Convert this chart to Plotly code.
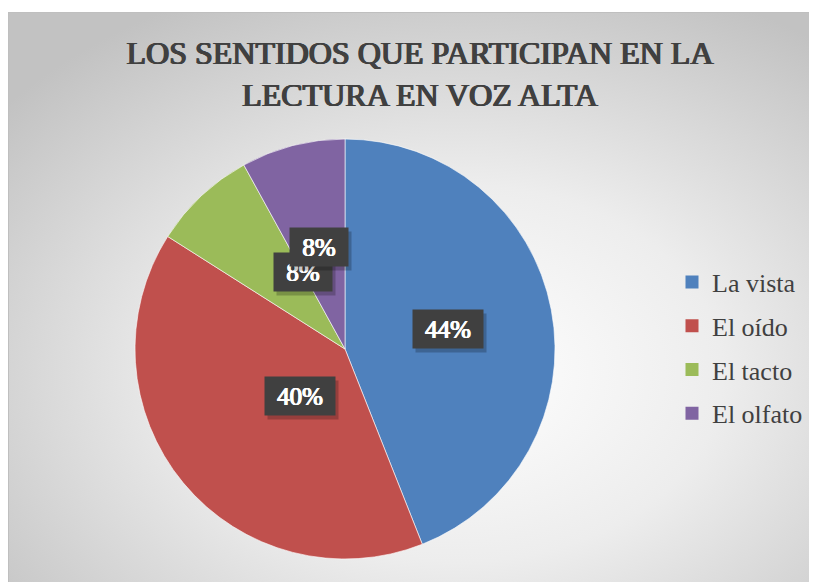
import base64
import math
import plotly.graph_objects as go

# datos de la encuesta (25 respuestas)
sentidos = ["La vista", "El oído", "El tacto", "El olfato"]
respuestas = [11, 10, 2, 2]
colores = ["#4F81BD", "#C0504D", "#9BBB59", "#8064A2"]

W, H = 817, 582
OFF = 8  # margen del body de la pagina
cx, cy, r = 345 - OFF, 349 - OFF, 210  # centro y radio del pastel en pixeles
SERIF = "Liberation Serif, Times New Roman, serif"


def negrita(c, d=0.6):
    # negrita simulada con text-shadow
    return f"{d}px 0 0 {c}, -{d}px 0 0 {c}, 0 {d/2}px 0 {c}"


# fondo con degradado radial (estilo Office)
svg = f"""<svg xmlns='http://www.w3.org/2000/svg' width='{W}' height='{H-4}'>
<defs><radialGradient id='g' cx='0.55' cy='0.62' r='0.72'>
<stop offset='0' stop-color='#ffffff'/>
<stop offset='0.45' stop-color='#ededed'/>
<stop offset='1' stop-color='#c2c2c2'/>
</radialGradient></defs>
<rect x='0.5' y='0.5' width='{W}' height='{H}' fill='url(#g)' stroke='#bfbfbf' stroke-width='1'/>
</svg>"""
fondo = "data:image/svg+xml;base64," + base64.b64encode(svg.encode()).decode()

fig = go.Figure()
fig.add_trace(go.Pie(
    labels=sentidos,
    values=respuestas,
    marker=dict(colors=colores, line=dict(color="rgba(255,255,255,0.6)", width=1)),
    sort=False,
    direction="clockwise",
    rotation=0,
    textinfo="none",
    hoverinfo="label+percent",
    showlegend=False,
    domain=dict(x=[(cx - r) / W, (cx + r) / W], y=[1 - (cy + r) / H, 1 - (cy - r) / H]),
))

# leyenda (una entrada por sentido, para poder separar las filas)
for nombre, col in zip(sentidos, colores):
    fig.add_trace(go.Scatter(x=[None], y=[None], mode="markers", name=nombre, legendgroup=nombre,
                             marker=dict(symbol="square", size=13, color=col, line=dict(width=0)),
                             hoverinfo="skip"))

# etiquetas de porcentaje con caja oscura
total = sum(respuestas)
acum = 0
for v in respuestas:
    ang = 2 * math.pi * (acum + v / 2) / total
    acum += v
    px_ = cx + 0.5 * r * math.sin(ang)
    py_ = cy - 0.5 * r * math.cos(ang)
    txt = f"{round(100 * v / total)}%"
    ancho = 24 * (0.5 * (len(txt) - 1) + 1) + 16
    pos = dict(x=px_ / W, y=1 - py_ / H, xref="paper", yref="paper", showarrow=False,
               width=ancho, height=32, borderpad=3)
    # sombra
    fig.add_annotation(**pos, text=" ", bgcolor="rgba(0,0,0,0.22)", xshift=3, yshift=-4)
    fig.add_annotation(**pos, text=txt, bgcolor="#404040",
                       font=dict(family=SERIF, size=25, color="white",
                                 shadow=negrita("white", 0.7)))

fig.update_layout(
    template="none",
    width=W, height=H,
    margin=dict(l=0, r=0, t=0, b=0),
    font=dict(family=SERIF, color="#404040"),
    paper_bgcolor="white",
    plot_bgcolor="rgba(0,0,0,0)",
    xaxis=dict(visible=False),
    yaxis=dict(visible=False),
    images=[dict(source=fondo, xref="paper", yref="paper", x=0, y=1 - 4 / H,
                 sizex=1, sizey=(H - 4) / H, xanchor="left", yanchor="top",
                 sizing="stretch", layer="below")],
    title=dict(text="LOS SENTIDOS QUE PARTICIPAN EN LA<br>LECTURA EN VOZ ALTA",
               x=(420 - OFF) / W, xanchor="center", y=1 - 56 / H, yanchor="top",
               font=dict(family=SERIF, size=32, color="#404040",
                         shadow=negrita("#404040", 0.8))),
    legend=dict(x=(712 - OFF - 40) / W, xanchor="left", y=1 - (348 - OFF) / H, yanchor="middle",
                font=dict(family=SERIF, size=26, color="#404040"),
                tracegroupgap=7, bgcolor="rgba(0,0,0,0)"),
)

# forzar la fuente serif en titulo y etiquetas
fuente_js = """
document.querySelectorAll('.gtitle, .gtitle tspan, .annotation-text, .annotation-text tspan')
  .forEach(function (e) {
    e.style.setProperty('font-family', '"Liberation Serif", "Times New Roman", serif', 'important');
  });
"""

fig.write_html("out.html", post_script=fuente_js)
